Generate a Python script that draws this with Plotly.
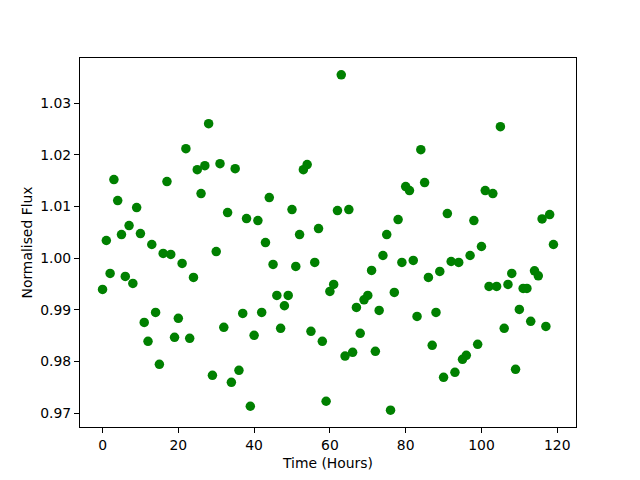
import plotly.graph_objects as go

hours = list(range(120))
flux = [
    0.99395, 1.00342, 0.99704, 1.01521, 1.01115, 1.00458, 0.99646, 1.00632, 0.99511, 1.00980,
    1.00477, 0.98757, 0.98390, 1.00265, 0.98951, 0.97946, 1.00091, 1.01482, 1.00072, 0.98468,
    0.98835, 0.99898, 1.02120, 0.98448, 0.99627, 1.01714, 1.01250, 1.01791, 1.02603, 0.97733,
    1.00129, 1.01830, 0.98661, 1.00883, 0.97598, 1.01733, 0.97830, 0.98931, 1.00767, 0.97134,
    0.98506, 1.00728, 0.98951, 1.00303, 1.01173, 0.99878, 0.99279, 0.98642, 0.99079, 0.99279,
    1.00941, 0.99840, 1.00458, 1.01714, 1.01811, 0.98584, 0.99917, 1.00574, 0.98390, 0.97231,
    0.99357, 0.99492, 1.00922, 1.03550, 0.98106, 1.00941, 0.98178, 0.99047, 0.98545, 0.99195,
    0.99279, 0.99762, 0.98197, 0.98989, 1.00052, 1.00458, 0.97057, 0.99337, 1.00748, 0.99917,
    1.01386, 1.01308, 0.99956, 0.98873, 1.02100, 1.01463, 0.99627, 0.98313, 0.98951, 0.99743,
    0.97695, 1.00864, 0.99936, 0.97791, 0.99917, 0.98042, 0.98120, 1.00052, 1.00728, 0.98332,
    1.00226, 1.01308, 0.99453, 1.01250, 0.99453, 1.02545, 0.98642, 0.99492, 0.99704, 0.97849,
    0.99009, 0.99415, 0.99415, 0.98777, 0.99755, 0.99658, 1.00760, 0.98680, 1.00844, 1.00265,
]
x_ticks = [0, 20, 40, 60, 80, 100, 120]
y_ticks = [0.97, 0.98, 0.99, 1.00, 1.01, 1.02, 1.03]
y_tick_text = ["0.97", "0.98", "0.99", "1.00", "1.01", "1.02", "1.03"]

xmin, xmax = min(hours), max(hours)
ymin, ymax = min(flux), max(flux)
xm = 0.05 * (xmax - xmin)
ym = 0.05 * (ymax - ymin)

fig = go.Figure(go.Scatter(
    x=hours, y=flux, mode="markers",
    marker=dict(color="green", size=9.5, line=dict(width=0)),
))

font = dict(family="DejaVu Sans", size=13.9, color="black")
axis_common = dict(
    showline=True, linecolor="black", linewidth=1.1, mirror=True,
    ticks="outside", ticklen=5, tickwidth=1.1, tickcolor="black",
    showgrid=False, zeroline=False, tickfont=font, automargin=False,
)
fig.update_layout(
    width=640, height=480,
    margin=dict(l=80, r=64, t=58, b=53),
    paper_bgcolor="white", plot_bgcolor="white",
    font=font, showlegend=False,
    xaxis=dict(range=[xmin - xm, xmax + xm], tickvals=x_ticks,
               title=dict(text="Time (Hours)", font=font, standoff=6), **axis_common),
    yaxis=dict(range=[ymin - ym, ymax + ym], tickvals=y_ticks, ticktext=y_tick_text,
               title=dict(text="Normalised Flux", font=font, standoff=4), **axis_common),
)
fig.write_html("out.html", config={"displayModeBar": False},
               post_script="document.body.style.margin='0px';")
